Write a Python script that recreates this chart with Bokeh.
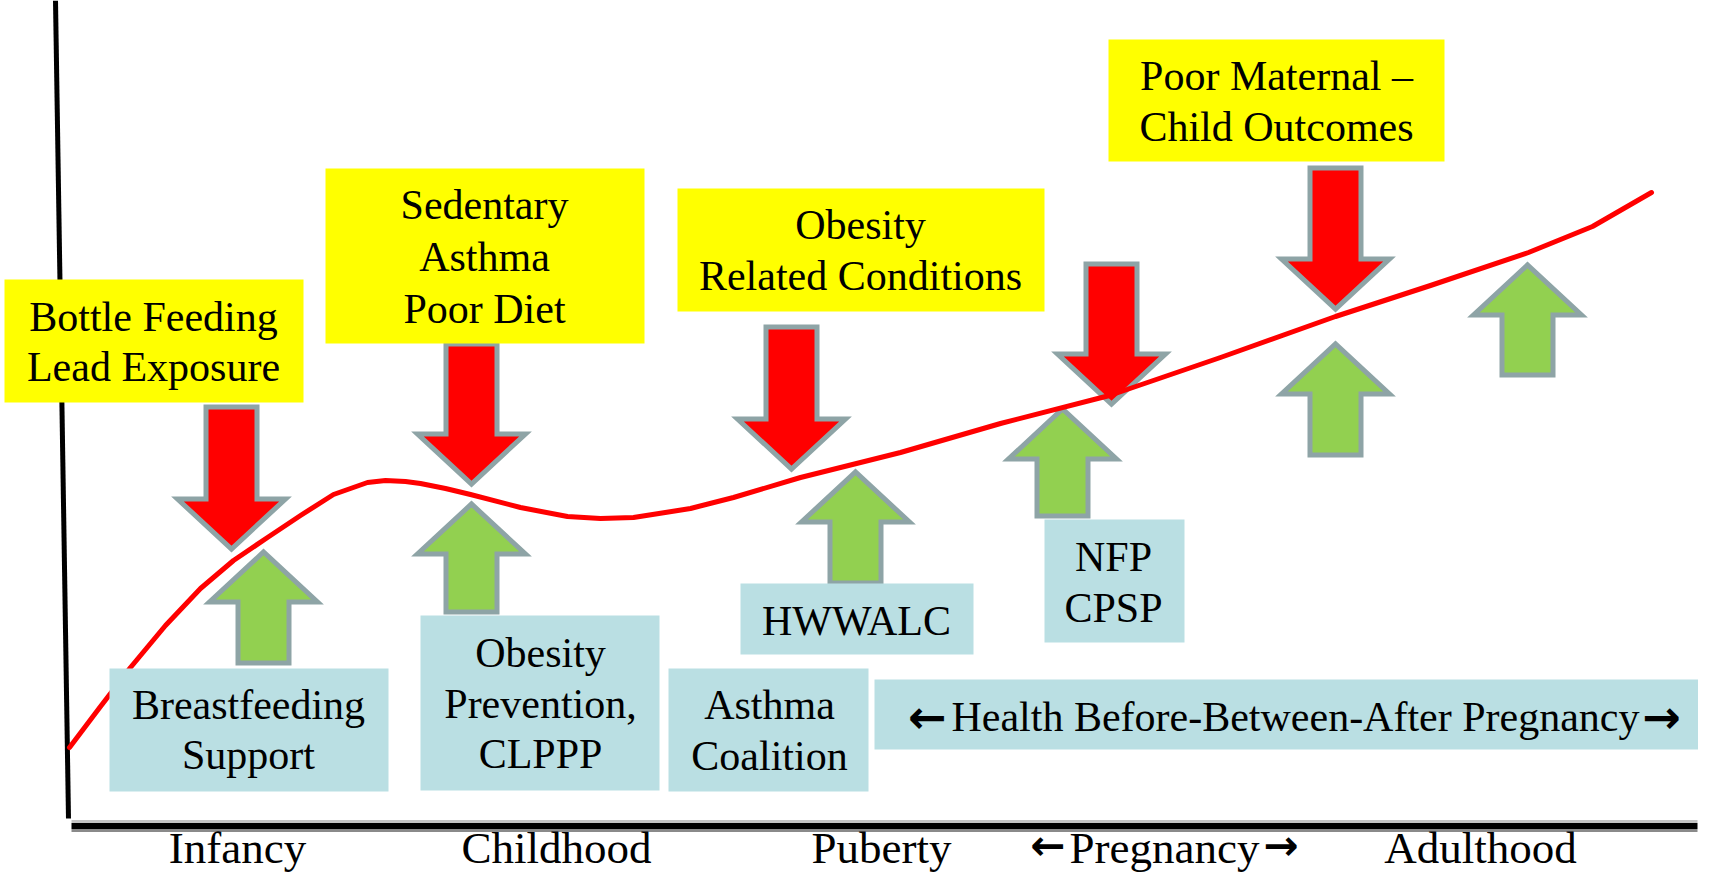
from bokeh.plotting import figure
from bokeh.models import Range1d
from bokeh.embed import file_html
from bokeh.resources import INLINE
from bokeh.core.properties import value

# ---------------- data (diagram coordinates) ----------------
# health trajectory curve
curve_x = [69, 100, 130, 165, 200, 233, 267, 300, 333, 367, 385, 405, 420, 445, 470, 520, 567, 600, 633, 690, 733, 800, 900, 1000, 1109, 1220, 1335, 1430, 1528, 1592, 1651]
curve_y = [747, 706, 667, 625, 588, 560, 537, 515, 494, 482, 480, 481, 483, 488, 494, 507, 516, 518, 517, 508, 497, 477, 452, 423, 395, 357, 316, 285, 252, 226, 192]

# risk arrows (down, red)
red_x = [231, 471, 791, 1111, 1335]
red_tip = [552, 487, 472, 407, 312]
red_tail = [404, 341, 324, 261, 165]

# protective arrows (up, green)
green_x = [263, 471, 855, 1062, 1335, 1527]
green_tip = [548, 500, 468, 405, 340, 261]
green_tail = [665, 614, 585, 518, 457, 377]

# risk boxes (yellow)
risk_left = [4, 325, 677, 1108]
risk_right = [303, 644, 1044, 1444]
risk_top = [279, 168, 188, 39]
risk_bottom = [402, 343, 311, 161]
risk_lines = [["Bottle Feeding", "Lead Exposure"],
              ["Sedentary", "Asthma", "Poor Diet"],
              ["Obesity", "Related Conditions"],
              ["Poor Maternal \u2013", "Child Outcomes"]]
risk_cx = [153, 484, 860, 1276]
risk_base = [[330, 380], [218, 270, 322], [238, 289], [89, 140]]

# program boxes (light blue)
prog_left = [109, 420, 668, 740, 1044, 874]
prog_right = [388, 659, 868, 973, 1184, 1714]
prog_top = [668, 615, 668, 583, 519, 679]
prog_bottom = [791, 790, 791, 654, 642, 749]
prog_lines = [["Breastfeeding", "Support"],
              ["Obesity", "Prevention,", "CLPPP"],
              ["Asthma", "Coalition"],
              ["HWWALC"],
              ["NFP", "CPSP"],
              ["Health Before-Between-After Pregnancy"]]
prog_cx = [248, 540, 769, 856, 1113, 1295]
prog_base = [[718, 768], [666, 717, 767], [718, 769], [634], [570, 621], [730]]
# arrow marks framing the wide program label
span_arrow_text = ["\u2190", "\u2192"]
span_arrow_x = [946, 1642]
span_arrow_align = ["right", "left"]
span_arrow_base = 730

# life stages (x-axis labels)
stages = ["Infancy", "Childhood", "Puberty", "Pregnancy", "Adulthood"]
stage_x = [237, 556, 881, 1164, 1480]
stage_base = 862
stage_arrow_text = ["\u2190", "\u2192"]
stage_arrow_x = [1065, 1263]
stage_arrow_align = ["right", "left"]

# axes
vaxis_x = [55, 68]
vaxis_y = [0, 818]
haxis_x = [71, 1697]
haxis_y = 825.5

SERIF = value("Liberation Serif")
SANS = value("DejaVu Sans")
RED = "#FF0000"
GREEN = "#92D050"
EDGE = "#8EA4A6"
YELLOW = "#FFFF00"
BLUE = "#BADFE3"
BOX_FS = 42
STAGE_FS = 45
ANCHOR = 0.333  # alphabetic anchor offset of the text glyph, in em


def anchor(b, fs):
    return b - ANCHOR * fs


p = figure(width=1698, height=873, x_range=Range1d(0, 1698), y_range=Range1d(873, 0),
           x_axis_type=None, y_axis_type=None, toolbar_location=None,
           output_backend="svg", min_border=0, outline_line_color=None,
           background_fill_color="white")
p.grid.visible = False

# axes
p.line(vaxis_x, vaxis_y, line_color="black", line_width=5)
p.line(haxis_x, [haxis_y - 4.5] * 2, line_color="#C4C4C4", line_width=3)
p.line(haxis_x, [haxis_y + 4.5] * 2, line_color="#8A8A8A", line_width=3)
p.line(haxis_x, [haxis_y] * 2, line_color="black", line_width=6)

# arrows
def arrow(cx, tip, tail):
    d = 1 if tip > tail else -1
    hb = tip - 56 * d  # outer head base
    sw, hw = 25.5, 54.0
    t0 = tail + 2.5 * d
    b0 = hb + 2.5 * d
    t1 = tip - 3.5 * d
    xs = [cx - sw, cx + sw, cx + sw, cx + hw, cx, cx - hw, cx - sw]
    ys = [t0, t0, b0, b0, t1, b0, b0]
    return xs, ys

rx, ry = zip(*[arrow(a, b, c) for a, b, c in zip(red_x, red_tip, red_tail)])
gx, gy = zip(*[arrow(a, b, c) for a, b, c in zip(green_x, green_tip, green_tail)])
p.patches(list(rx), list(ry), fill_color=RED, line_color=EDGE, line_width=5, line_join="miter")
p.patches(list(gx), list(gy), fill_color=GREEN, line_color=EDGE, line_width=5, line_join="miter")

# curve
p.line(curve_x, curve_y, line_color=RED, line_width=5, line_join="round", line_cap="round")

# boxes
p.quad(left=risk_left, right=risk_right, top=risk_top, bottom=risk_bottom,
       fill_color=YELLOW, line_color=None)
p.quad(left=prog_left, right=prog_right, top=prog_top, bottom=prog_bottom,
       fill_color=BLUE, line_color=None)

# texts
tx, ty, tt = [], [], []
for lines, cx, bases in zip(risk_lines + prog_lines, risk_cx + prog_cx, risk_base + prog_base):
    for s, b in zip(lines, bases):
        tx.append(cx); ty.append(anchor(b, BOX_FS)); tt.append(s)
p.text(x=tx, y=ty, text=tt, text_font=SERIF, text_font_size=f"{BOX_FS}px", text_color="black",
       text_align="center", text_baseline="alphabetic")
for s, x, a in zip(span_arrow_text, span_arrow_x, span_arrow_align):
    p.text(x=[x], y=[anchor(span_arrow_base, BOX_FS)], text=[s], text_font=SANS,
           text_font_size="46px", text_font_style="bold", text_color="black",
           text_align=a, text_baseline="alphabetic")

p.text(x=stage_x, y=[anchor(stage_base, STAGE_FS)] * len(stages), text=stages, text_font=SERIF,
       text_font_size=f"{STAGE_FS}px", text_color="black", text_align="center",
       text_baseline="alphabetic")
for s, x, a in zip(stage_arrow_text, stage_arrow_x, stage_arrow_align):
    p.text(x=[x], y=[anchor(stage_base - 2, STAGE_FS)], text=[s], text_font=SANS,
           text_font_size="42px", text_font_style="bold", text_color="black",
           text_align=a, text_baseline="alphabetic")

open("out.html", "w").write(file_html(p, INLINE))
